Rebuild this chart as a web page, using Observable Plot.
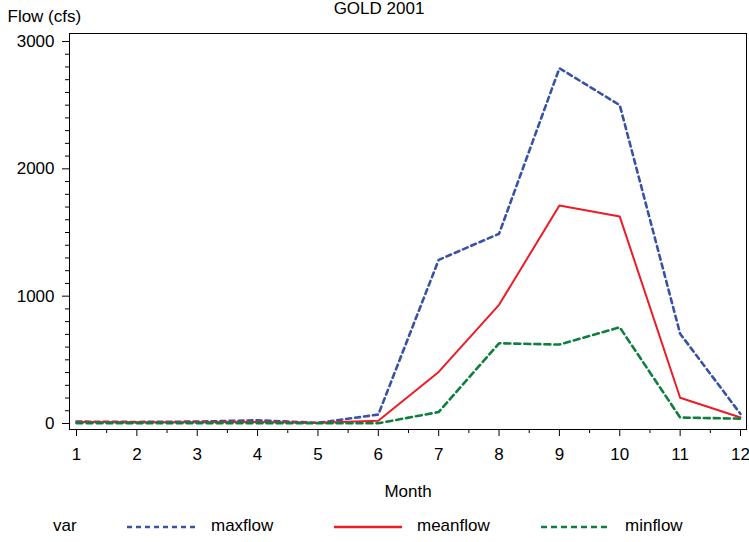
<!DOCTYPE html>
<html>
<head>
<meta charset="utf-8">
<script src="https://cdn.jsdelivr.net/npm/d3@7"></script>
<script src="https://cdn.jsdelivr.net/npm/@observablehq/plot@0.6"></script>
<style>
  body { margin: 0; background: #fff; font-family: "Liberation Sans", Arial, sans-serif; }
  #wrap { position: relative; width: 749px; height: 542px; overflow: hidden; }
  #legend { position: absolute; left: 0; top: 500px; width: 749px; height: 42px; font-size: 17px; color: #000; }
  #legend span { position: absolute; top: 16px; line-height: 20px; }
  #legend svg { position: absolute; top: 24px; }
</style>
</head>
<body>
<div id="wrap">
  <div id="chart"></div>
  <div id="legend"></div>
</div>
<script>
const title = "GOLD 2001";
const yLabel = "Flow (cfs)";
const xLabel = "Month";
const months = [1, 2, 3, 4, 5, 6, 7, 8, 9, 10, 11, 12];
const maxflow = [15, 12, 15, 25, 5, 70, 1285, 1490, 2790, 2500, 705, 75];
const meanflow = [12, 10, 10, 12, 5, 22, 405, 932, 1712, 1625, 202, 47];
const minflow = [3, 3, 3, 3, 2, 2, 90, 630, 620, 755, 47, 38];
const seriesNames = ["maxflow", "meanflow", "minflow"];
const seriesColors = ["#3953a4", "#ed1c24", "#0f7f3f"];
const seriesDash = ["5,4", null, "6,4"];
const yMajor = [0, 1000, 2000, 3000];
const yMinor = d3.range(0, 3001, 100).filter(v => v % 1000 !== 0);
const xMinor = d3.range(1.5, 12, 1);

const seriesValues = [maxflow, meanflow, minflow];
const rows = seriesNames.map((name, i) => months.map((m, j) => ({month: m, value: seriesValues[i][j], var: name})));

const lineMarks = rows.map((data, i) => Plot.line(data, {
  x: "month", y: "value",
  stroke: seriesColors[i],
  strokeWidth: i === 1 ? 2 : 2.6,
  strokeDasharray: seriesDash[i]
}));

const chart = Plot.plot({
  width: 749,
  height: 500,
  marginLeft: 69,
  marginTop: 33,
  marginRight: 3,
  marginBottom: 71,
  style: {fontFamily: "Liberation Sans, Arial, sans-serif", fontSize: "17px", color: "#000", background: "#fff"},
  x: {domain: [1, 12], range: [76, 740]},
  y: {domain: [0, 3000], range: [423, 41]},
  marks: [
    Plot.frame({stroke: "#000", strokeWidth: 1}),
    Plot.axisY({ticks: yMajor, tickSize: 7, tickPadding: 8, tickFormat: d => String(d), label: null, strokeWidth: 1}),
    Plot.axisY({ticks: yMinor, tickSize: 4, text: null, label: null}),
    Plot.axisX({ticks: months, tickSize: 7, tickPadding: 11, tickFormat: d => String(d), label: null}),
    Plot.axisX({ticks: xMinor, tickSize: 4, text: null, label: null}),
    ...lineMarks,
    Plot.text([yLabel], {frameAnchor: "top-left", text: d => d, textAnchor: "start", dx: -62, dy: -17, lineAnchor: "middle", fontSize: 17}),
    Plot.text([title], {frameAnchor: "top", text: d => d, textAnchor: "middle", dx: -29, dy: -25, lineAnchor: "middle", fontSize: 17}),
    Plot.text([xLabel], {frameAnchor: "bottom", text: d => d, textAnchor: "middle", dy: 62, lineAnchor: "middle", fontSize: 17})
  ]
});
document.getElementById("chart").appendChild(chart);

// Legend
const legend = document.getElementById("legend");
const varSpan = document.createElement("span");
varSpan.textContent = "var";
varSpan.style.left = "53px";
legend.appendChild(varSpan);
const swatchX = [127, 334, 541];
const labelX = [211, 417, 625];
seriesNames.forEach((name, i) => {
  const svg = d3.create("svg").attr("width", 70).attr("height", 6).style("left", swatchX[i] + "px");
  svg.append("line").attr("x1", 0).attr("x2", 68).attr("y1", 3).attr("y2", 3)
    .attr("stroke", seriesColors[i]).attr("stroke-width", i === 1 ? 2.5 : 2.6)
    .attr("stroke-dasharray", seriesDash[i]);
  legend.appendChild(svg.node());
  const s = document.createElement("span");
  s.textContent = name;
  s.style.left = labelX[i] + "px";
  legend.appendChild(s);
});
</script>
</body>
</html>
